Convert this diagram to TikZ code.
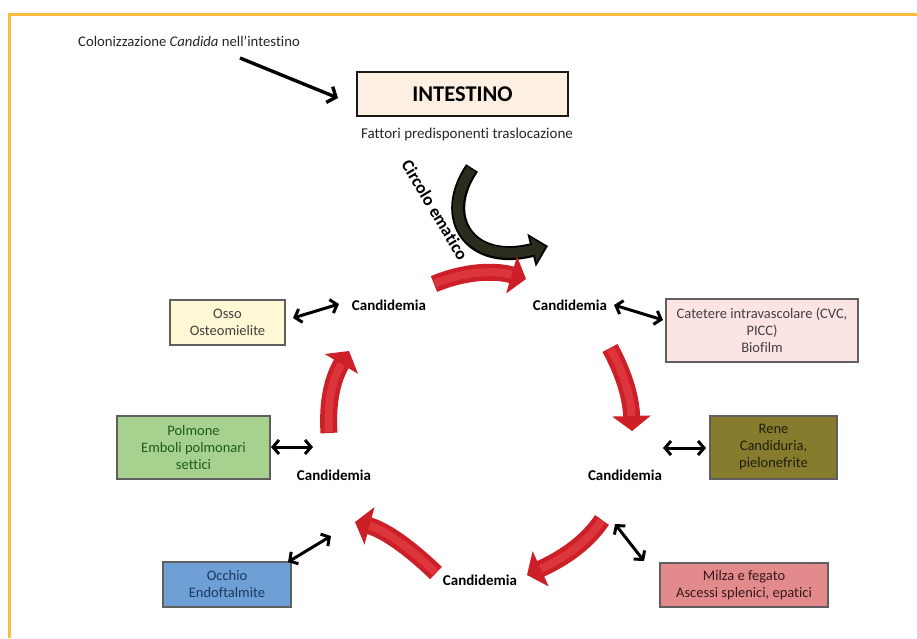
\documentclass[tikz,border=0pt]{standalone}
\usepackage{fontspec}
\setmainfont{Carlito}[Ligatures=NoCommon]
\usetikzlibrary{arrows.meta}
\definecolor{orangeline}{HTML}{F9BC3C}
\definecolor{boxgray}{HTML}{5F5F5F}
\definecolor{arrowred}{HTML}{CC1F27}
\definecolor{arrowredlight}{HTML}{DC353C}
\definecolor{blackbody}{HTML}{2C2C1E}
\definecolor{intfill}{HTML}{FDF0E3}
\definecolor{ossofill}{HTML}{FFF8D4}
\definecolor{polfill}{HTML}{A6D18E}
\definecolor{catfill}{HTML}{FDE4E4}
\definecolor{renefill}{HTML}{877B2D}
\definecolor{occfill}{HTML}{6E9FD5}
\definecolor{milfill}{HTML}{E38A8C}
\begin{document}
\begin{tikzpicture}[x=1pt,y=-1pt,
  box/.style={draw=boxgray, line width=1.2pt, align=center, inner sep=0pt,
    font=\fontsize{14.5}{17}\selectfont},
  cand/.style={font=\fontsize{15}{17}\selectfont\bfseries, inner sep=0pt},
  dbl/.style={{Straight Barb[length=6pt,width=14pt]}-{Straight Barb[length=6pt,width=14pt]}, line width=3pt, black},
  redarr/.style={line width=17pt, draw=arrowred, -{Triangle[length=15pt,width=38pt]}},
  redhi/.style={line width=8pt, draw=arrowredlight, shorten >=15pt, shorten <=1pt},
]
\useasboundingbox (0,0) rectangle (917,638);
% frame
\draw[orangeline, line width=3pt] (8,14) -- (917,14);
\draw[orangeline, line width=3pt] (9,14) -- (9,638);

% top texts
\node[font=\fontsize{14.7}{17}\selectfont, text=black!85, inner sep=0pt] (colon) at (189,41)
  {Colonizzazione \textit{Candida} nell’intestino};
\node[draw=black!90, line width=2.4pt, fill=intfill, minimum width=211pt, minimum height=44pt,
  inner sep=0pt, font=\fontsize{22.5}{24}\selectfont\bfseries] (int) at (462.5,94) {INTESTINO};
\node[font=\fontsize{15}{17}\selectfont, text=black!85, inner sep=0pt] (fatt) at (467,134)
  {Fattori predisponenti traslocazione};
\coordinate (colA) at (240,58);
\coordinate (colB) at (338,98);
\draw[line width=3.4pt, -{Straight Barb[length=7pt,width=17pt]}] (colA) -- (colB);

% circolo ematico
\node[font=\fontsize{17.5}{19}\selectfont\bfseries, rotate=-59, inner sep=0pt] (circ) at (435,210) {Circolo ematico};
\coordinate (bk1) at (472,168);
\coordinate (bk2) at (548,246);
\draw[line width=14pt, black, -{Triangle[length=17pt,width=33pt]}]
  (bk1) .. controls (438,218) and (470,266) .. (bk2);
\draw[line width=10pt, blackbody, -{Triangle[length=12pt,width=25pt]}, shorten >=3pt, shorten <=1.5pt]
  (bk1) .. controls (438,218) and (470,266) .. (bk2);

% candidemia labels
\node[cand] (c1) at (389,305) {Candidemia};
\node[cand] (c2) at (570,305) {Candidemia};
\node[cand] (c3) at (625,475) {Candidemia};
\node[cand] (c4) at (480,580) {Candidemia};
\node[cand] (c5) at (334,475) {Candidemia};

% red arrows
\coordinate (r1a) at (434,284); \coordinate (r1b) at (526,279);
\draw[redarr] (r1a) .. controls (465,271) and (495,270) .. (r1b);
\draw[redhi] (r1a) .. controls (465,271) and (495,270) .. (r1b);
\coordinate (r2a) at (610,348); \coordinate (r2b) at (632,431);
\draw[redarr] (r2a) .. controls (622,370) and (631,395) .. (r2b);
\draw[redhi] (r2a) .. controls (622,370) and (631,395) .. (r2b);
\coordinate (r3a) at (602,520); \coordinate (r3b) at (527,575);
\draw[redarr] (r3a) .. controls (585,545) and (560,560) .. (r3b);
\draw[redhi] (r3a) .. controls (585,545) and (560,560) .. (r3b);
\coordinate (r4a) at (436,573); \coordinate (r4b) at (355,522);
\draw[redarr] (r4a) .. controls (410,548) and (385,530) .. (r4b);
\draw[redhi] (r4a) .. controls (410,548) and (385,530) .. (r4b);
\coordinate (r5a) at (329,433); \coordinate (r5b) at (349,351);
\draw[redarr] (r5a) .. controls (327,400) and (333,378) .. (r5b);
\draw[redhi] (r5a) .. controls (327,400) and (333,378) .. (r5b);

% boxes
\node[box, fill=ossofill, text=black!75, minimum width=115pt, minimum height=45pt] (osso) at (227.5,322.5)
  {Osso\\Osteomielite};
\node[box, fill=polfill, text={rgb,255:red,30;green,90;blue,30}, minimum width=153pt, minimum height=63pt] (polm) at (193.5,447.5)
  {Polmone\\Emboli polmonari\\settici};
\node[box, fill=catfill, text=black!75, minimum width=192pt, minimum height=63pt] (cat) at (762,330.5)
  {Catetere intravascolare (CVC,\\PICC)\\Biofilm};
\node[box, fill=renefill, text={rgb,255:red,30;green,30;blue,10}, minimum width=127pt, minimum height=63pt] (rene) at (773.5,447.5)
  {Rene\\Candiduria,\\pielonefrite};
\node[box, fill=occfill, text={rgb,255:red,28;green,56;blue,96}, minimum width=128pt, minimum height=45pt] (occ) at (227,584.5)
  {Occhio\\Endoftalmite};
\node[box, fill=milfill, text={rgb,255:red,55;green,25;blue,25}, minimum width=168pt, minimum height=44pt] (mil) at (744,585)
  {Milza e fegato\\Ascessi splenici, epatici};

% double arrows
\coordinate (d1a) at (293,318); \coordinate (d1b) at (339,304);
\draw[dbl] (d1a) -- (d1b);
\coordinate (d2a) at (271,447); \coordinate (d2b) at (313,447);
\draw[dbl] (d2a) -- (d2b);
\coordinate (d3a) at (614,305); \coordinate (d3b) at (663,320);
\draw[dbl] (d3a) -- (d3b);
\coordinate (d4a) at (663,448); \coordinate (d4b) at (706,448);
\draw[dbl] (d4a) -- (d4b);
\coordinate (d5a) at (615,524); \coordinate (d5b) at (644,561);
\draw[dbl] (d5a) -- (d5b);
\coordinate (d6a) at (288,562); \coordinate (d6b) at (331,536);
\draw[dbl] (d6a) -- (d6b);
\end{tikzpicture}
\end{document}
